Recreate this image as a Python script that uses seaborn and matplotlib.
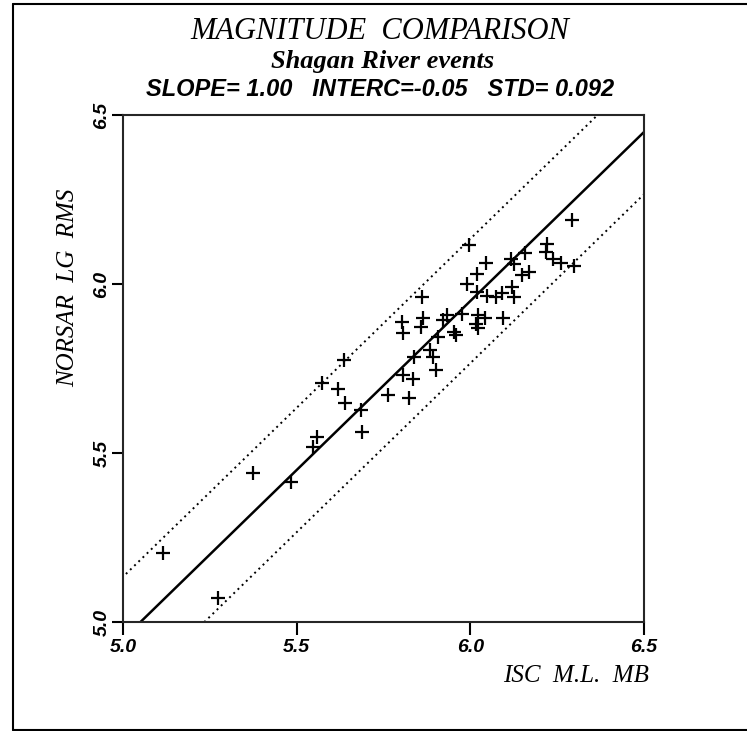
import seaborn as sns
import matplotlib.pyplot as plt
from matplotlib.lines import Line2D
import pandas as pd
import numpy as np

# Values
isc_mb = [5.116, 5.272, 5.373, 5.484, 5.548, 5.559, 5.572, 5.620, 5.636, 5.639,
          5.684, 5.687, 5.764, 5.824, 5.805, 5.836, 5.839, 5.885, 5.893, 5.900,
          5.906, 5.952, 5.959, 5.807, 5.804, 5.857, 5.865, 5.862, 5.921, 5.932,
          5.975, 6.016, 6.023, 6.023, 6.042, 5.990, 6.018, 6.020, 6.049, 6.074,
          6.045, 5.997, 6.090, 6.093, 6.119, 6.126, 6.117, 6.126, 6.157, 6.150,
          6.170, 6.222, 6.218, 6.239, 6.261, 6.299, 6.292]
norsar_lg = [5.203, 5.070, 5.440, 5.414, 5.519, 5.548, 5.706, 5.690, 5.775, 5.649,
             5.627, 5.563, 5.672, 5.664, 5.732, 5.719, 5.785, 5.805, 5.785, 5.747,
             5.844, 5.857, 5.848, 5.856, 5.888, 5.872, 5.901, 5.961, 5.893, 5.908,
             5.910, 5.882, 5.870, 5.908, 5.901, 6.000, 6.030, 5.977, 5.964, 5.961,
             6.061, 6.115, 5.974, 5.899, 5.992, 5.962, 6.074, 6.059, 6.091, 6.027,
             6.036, 6.118, 6.096, 6.073, 6.061, 6.053, 6.189]

slope = 1.00
interc = -0.05
std = 0.092
ticks = [5.0, 5.5, 6.0, 6.5]
tick_labels = ["5.0", "5.5", "6.0", "6.5"]

df = pd.DataFrame({"isc": isc_mb, "norsar": norsar_lg})

sns.set_style("ticks")
plt.rcParams["axes.linewidth"] = 1.5
plt.rcParams["text.color"] = "black"
plt.rcParams["axes.labelcolor"] = "black"

fig = plt.figure(figsize=(7.47, 7.31), dpi=100)
ax = fig.add_axes([0.1647, 0.149, 0.6975, 0.6936])

sns.scatterplot(data=df, x="isc", y="norsar", marker="+", s=90,
                color="black", linewidth=1.6, ax=ax)

# regression line and +/- 2 std band
xl = np.array([4.9, 6.6])
ax.plot(xl, slope * xl + interc, color="black", lw=1.8)
ax.plot(xl, slope * xl + interc + 2 * std, color="black", lw=1.4, ls=(0, (1, 2)))
ax.plot(xl, slope * xl + interc - 2 * std, color="black", lw=1.4, ls=(0, (1, 2)))

ax.set_xlim(5.0, 6.5)
ax.set_ylim(5.0, 6.5)
ax.set_xticks(ticks)
ax.set_yticks(ticks)

tick_font = dict(family="Liberation Sans", weight="bold", style="italic", size=14)
ax.set_xticklabels(tick_labels, fontdict=tick_font)
ax.set_yticklabels(tick_labels, fontdict=tick_font, rotation=90, va="center")
ax.tick_params(axis="x", length=9, width=1.5, pad=3, colors="black")
ax.tick_params(axis="y", length=8, width=1.5, pad=1, colors="black")

ax.set_xlabel("ISC  M.L.  MB", family="Liberation Serif", style="italic", size=18,
              ha="right", color="black")
ax.xaxis.set_label_coords(1.01, -0.085)
ax.set_ylabel("NORSAR  LG  RMS", family="Liberation Serif", style="italic", size=18,
              color="black")
ax.yaxis.set_label_coords(-0.085, 0.66)

fig.text(0.509, 0.946, "MAGNITUDE  COMPARISON", ha="center", va="baseline",
         family="Liberation Serif", style="italic", size=22)
fig.text(0.512, 0.907, "Shagan River events", ha="center", va="baseline",
         family="Liberation Serif", style="italic", weight="bold", size=19)
fig.text(0.509, 0.869, f"SLOPE= {slope:.2f}   INTERC={interc:.2f}   STD= {std:.3f}",
         ha="center", va="baseline", family="Liberation Sans", style="italic",
         weight="bold", size=17)

# page frame from the scan
for xs, ys in [([0.017, 0.017], [0.002, 0.995]),
               ([0.017, 1.0], [0.995, 0.995]),
               ([0.017, 1.0], [0.002, 0.002])]:
    fig.add_artist(Line2D(xs, ys, transform=fig.transFigure, color="black", lw=1.5))

plt.savefig("out.png", dpi=100)
plt.close()
